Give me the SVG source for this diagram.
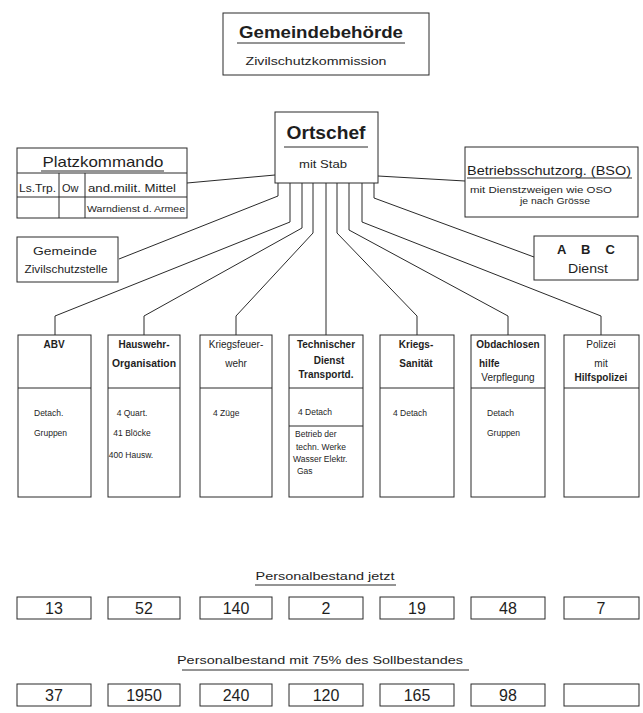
<svg xmlns="http://www.w3.org/2000/svg" width="643" height="713" viewBox="0 0 643 713">
<style>
.bx{fill:none;stroke:#2a2a2a;stroke-width:1}
.ln{fill:none;stroke:#2a2a2a;stroke-width:1}
text{font-family:"Liberation Sans",Arial,sans-serif;fill:#1e1e1e}
.h1{font-size:17px;font-weight:bold}
.h2{font-size:15px}
.s11{font-size:11px}
.s10{font-size:10px}
.s9{font-size:9px}
.s8{font-size:8.5px}
.hd{font-size:10px;font-weight:bold}
.num{font-size:16px}
.c{text-anchor:middle}
</style>
<rect width="643" height="713" fill="#fff"/>
<g id="connectors">
<polyline class="ln" points="187,183 275,175"/>
<polyline class="ln" points="378,176 465,181"/>
<polyline class="ln" points="278,183 278,196 119,259"/>
<polyline class="ln" points="290,183 290,222 55,316 55,335"/>
<polyline class="ln" points="302,183 302,228 144,316 144,335"/>
<polyline class="ln" points="313,183 313,233 236,316 236,335"/>
<polyline class="ln" points="326,183 326,335"/>
<polyline class="ln" points="337,183 337,233 417,316 417,335"/>
<polyline class="ln" points="349,183 349,230 508,316 508,335"/>
<polyline class="ln" points="362,183 362,222 601,316 601,335"/>
<polyline class="ln" points="374,183 374,198 534,257"/>
</g>
<g id="gemeindebehoerde">
<rect class="bx" x="223" y="13" width="206" height="62"/>
<text class="h1 c" x="321" y="38" textLength="164" lengthAdjust="spacingAndGlyphs">Gemeindebehörde</text>
<line class="ln" x1="237" y1="43" x2="405" y2="43"/>
<text class="s11 c" x="316" y="65" textLength="141" lengthAdjust="spacingAndGlyphs">Zivilschutzkommission</text>
</g>
<g id="ortschef">
<rect class="bx" x="275" y="112" width="103" height="71"/>
<text class="c" x="326" y="139" style="font-size:18px;font-weight:bold" textLength="79" lengthAdjust="spacingAndGlyphs">Ortschef</text>
<line class="ln" x1="284" y1="147" x2="368" y2="147"/>
<text class="s11 c" x="323" y="168" textLength="48" lengthAdjust="spacingAndGlyphs">mit Stab</text>
</g>
<g id="platzkommando">
<rect class="bx" x="17" y="148" width="170" height="70"/>
<line class="ln" x1="17" y1="173" x2="187" y2="173"/>
<line class="ln" x1="17" y1="197" x2="187" y2="197"/>
<line class="ln" x1="59" y1="173" x2="59" y2="218"/>
<line class="ln" x1="85" y1="173" x2="85" y2="218"/>
<text class="h2 c" x="103" y="167" textLength="121" lengthAdjust="spacingAndGlyphs">Platzkommando</text>
<line class="ln" x1="41" y1="171" x2="164" y2="171"/>
<text class="s11" x="19" y="192" textLength="37" lengthAdjust="spacingAndGlyphs">Ls.Trp.</text>
<text class="s11" x="62" y="192">Ow</text>
<text class="s11" x="88" y="192" textLength="88" lengthAdjust="spacingAndGlyphs">and.milit. Mittel</text>
<text class="s9" x="87" y="212" textLength="98" lengthAdjust="spacingAndGlyphs">Warndienst d. Armee</text>
</g>
<g id="bso">
<rect class="bx" x="465" y="147" width="173" height="70"/>
<text class="c" x="549" y="175" style="font-size:13px" textLength="164" lengthAdjust="spacingAndGlyphs">Betriebsschutzorg. (BSO)</text>
<line class="ln" x1="467" y1="178" x2="632" y2="178"/>
<text class="s8" x="470" y="193" textLength="142" lengthAdjust="spacingAndGlyphs">mit Dienstzweigen  wie  OSO</text>
<text class="s9" x="520" y="204" textLength="70" lengthAdjust="spacingAndGlyphs">je nach Grösse</text>
</g>
<g id="gemeinde-zivilschutzstelle">
<rect class="bx" x="17" y="237" width="101" height="45"/>
<text class="s11 c" x="65" y="255" textLength="64" lengthAdjust="spacingAndGlyphs">Gemeinde</text>
<text class="s10 c" x="66" y="273" textLength="83" lengthAdjust="spacingAndGlyphs">Zivilschutzstelle</text>
</g>
<g id="abc-dienst">
<rect class="bx" x="534" y="236" width="104" height="44"/>
<text class="c" x="586" y="254" style="font-size:13px;font-weight:bold" textLength="58" lengthAdjust="spacing">A  B  C</text>
<text class="c" x="588" y="273" style="font-size:13px" textLength="40" lengthAdjust="spacingAndGlyphs">Dienst</text>
</g>
<g id="abv">
<rect class="bx" x="18" y="335" width="73" height="162"/>
<line class="ln" x1="18" y1="388" x2="91" y2="388"/>
<text class="hd c" x="54" y="348">ABV</text>
<text class="s8" x="34" y="416">Detach.</text>
<text class="s8" x="34" y="436">Gruppen</text>
</g>
<g id="hauswehr">
<rect class="bx" x="108" y="335" width="72" height="162"/>
<line class="ln" x1="108" y1="388" x2="180" y2="388"/>
<text class="hd c" x="144" y="348">Hauswehr-</text>
<text class="hd c" x="144" y="367" textLength="64" lengthAdjust="spacingAndGlyphs">Organisation</text>
<text class="s8 c" x="132" y="416">4 Quart.</text>
<text class="s8 c" x="132" y="436">41 Blöcke</text>
<text class="s8 c" x="131" y="458">400 Hausw.</text>
</g>
<g id="kriegsfeuerwehr">
<rect class="bx" x="200" y="335" width="72" height="162"/>
<line class="ln" x1="200" y1="388" x2="272" y2="388"/>
<text class="s10 c" x="236" y="348">Kriegsfeuer-</text>
<text class="s10 c" x="236" y="367">wehr</text>
<text class="s8" x="213" y="416">4 Züge</text>
</g>
<g id="technischer-dienst">
<rect class="bx" x="289" y="335" width="74" height="162"/>
<line class="ln" x1="289" y1="388" x2="363" y2="388"/>
<line class="ln" x1="289" y1="426" x2="363" y2="426"/>
<text class="hd c" x="326" y="348">Technischer</text>
<text class="hd c" x="329" y="364">Dienst</text>
<text class="hd c" x="326" y="378">Transportd.</text>
<text class="s8" x="298" y="415">4 Detach</text>
<text class="s8" x="295" y="437">Betrieb der</text>
<text class="s8" x="296" y="450">techn. Werke</text>
<text class="s8" x="293" y="462">Wasser  Elektr.</text>
<text class="s8" x="297" y="474">Gas</text>
</g>
<g id="kriegs-sanitaet">
<rect class="bx" x="380" y="335" width="74" height="162"/>
<line class="ln" x1="380" y1="388" x2="454" y2="388"/>
<text class="hd c" x="416" y="348">Kriegs-</text>
<text class="hd c" x="416" y="367">Sanität</text>
<text class="s8" x="393" y="416">4 Detach</text>
</g>
<g id="obdachlosenhilfe">
<rect class="bx" x="471" y="335" width="74" height="162"/>
<line class="ln" x1="471" y1="388" x2="545" y2="388"/>
<text class="hd c" x="508" y="348">Obdachlosen</text>
<text class="hd" x="479" y="367">hilfe</text>
<text class="s10 c" x="508" y="381">Verpflegung</text>
<text class="s8" x="487" y="416">Detach</text>
<text class="s8" x="487" y="436">Gruppen</text>
</g>
<g id="polizei">
<rect class="bx" x="564" y="335" width="75" height="162"/>
<line class="ln" x1="564" y1="388" x2="639" y2="388"/>
<text class="s10 c" x="601" y="348">Polizei</text>
<text class="s10 c" x="601" y="367">mit</text>
<text class="hd c" x="601" y="381">Hilfspolizei</text>
</g>
<g id="personalbestand-jetzt">
<text class="s11 c" x="325" y="580" textLength="139" lengthAdjust="spacingAndGlyphs">Personalbestand jetzt</text>
<line class="ln" x1="255" y1="585" x2="396" y2="585"/>
<rect class="bx" x="17" y="597" width="74" height="22"/>
<rect class="bx" x="108" y="597" width="72" height="22"/>
<rect class="bx" x="200" y="597" width="72" height="22"/>
<rect class="bx" x="289" y="597" width="74" height="22"/>
<rect class="bx" x="380" y="597" width="74" height="22"/>
<rect class="bx" x="471" y="597" width="74" height="22"/>
<rect class="bx" x="564" y="597" width="75" height="22"/>
<text class="num c" x="54" y="614">13</text>
<text class="num c" x="144" y="614">52</text>
<text class="num c" x="236" y="614">140</text>
<text class="num c" x="326" y="614">2</text>
<text class="num c" x="417" y="614">19</text>
<text class="num c" x="508" y="614">48</text>
<text class="num c" x="601" y="614">7</text>
</g>
<g id="personalbestand-75">
<text class="s11 c" x="320" y="664" textLength="286" lengthAdjust="spacingAndGlyphs">Personalbestand mit 75% des Sollbestandes</text>
<line class="ln" x1="182" y1="670" x2="469" y2="670"/>
<rect class="bx" x="17" y="684" width="74" height="22"/>
<rect class="bx" x="108" y="684" width="72" height="22"/>
<rect class="bx" x="200" y="684" width="72" height="22"/>
<rect class="bx" x="289" y="684" width="74" height="22"/>
<rect class="bx" x="380" y="684" width="74" height="22"/>
<rect class="bx" x="471" y="684" width="74" height="22"/>
<rect class="bx" x="564" y="684" width="75" height="22"/>
<text class="num c" x="54" y="701">37</text>
<text class="num c" x="144" y="701">1950</text>
<text class="num c" x="236" y="701">240</text>
<text class="num c" x="326" y="701">120</text>
<text class="num c" x="417" y="701">165</text>
<text class="num c" x="508" y="701">98</text>
</g>
</svg>
